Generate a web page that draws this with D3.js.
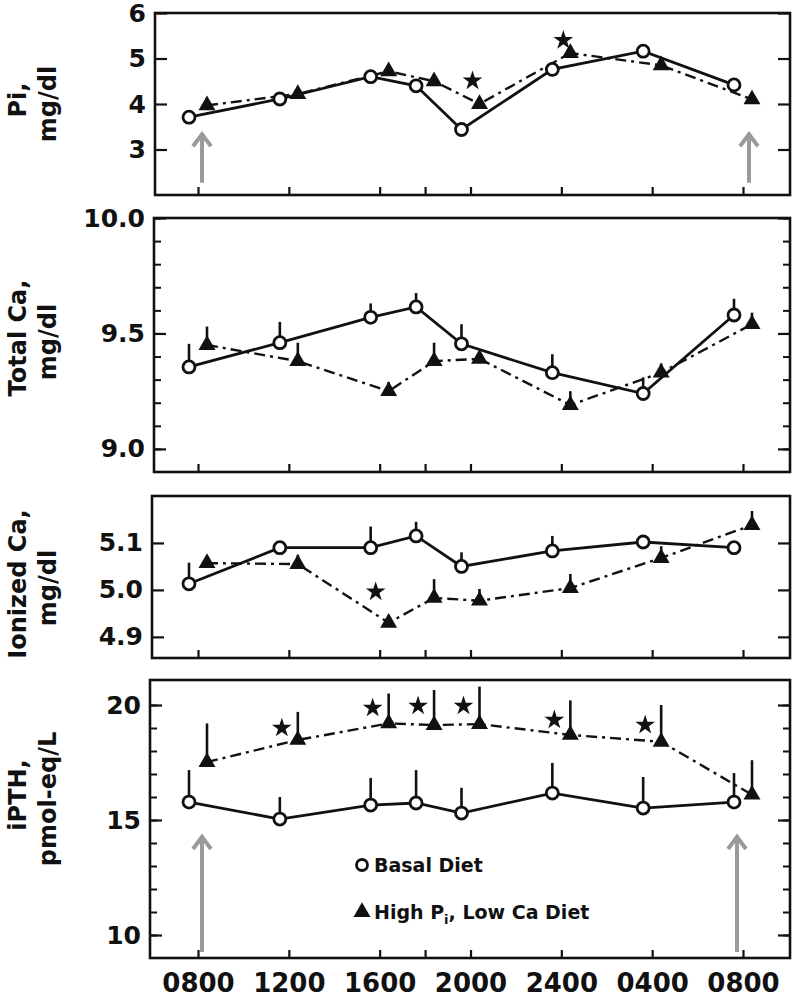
<!DOCTYPE html>
<html>
<head>
<meta charset="utf-8">
<script src="https://cdn.jsdelivr.net/npm/d3@7"></script>
<style>
  html, body { margin: 0; padding: 0; background: #fff; }
  svg { display: block; }
  text { font-family: "DejaVu Sans", sans-serif; fill: #111; }
</style>
</head>
<body>
<svg id="chart" width="797" height="1000"></svg>
<script>
// ---------- data ----------
const sampleHours = [0, 4, 8, 10, 12, 16, 20, 24];
const labelHours = [0, 4, 8, 12, 16, 20, 24];
const timeLabels = ["0800", "1200", "1600", "2000", "2400", "0400", "0800"];

// Panel 1: Pi, mg/dl
const piBasal = [3.71, 4.11, 4.60, 4.40, 3.44, 4.76, 5.16, 4.42];
const piHigh  = [3.97, 4.22, 4.72, 4.50, 4.00, 5.12, 4.85, 4.10];
const piStarHours = [12, 16];
const piStarValues = [4.51, 5.40];

// Panel 2: Total Ca, mg/dl
const caBasal    = [9.355, 9.46, 9.57, 9.615, 9.455, 9.33, 9.24, 9.58];
const caBasalErr = [0.10, 0.09, 0.06, 0.06, 0.085, 0.08, 0.07, 0.07];
const caHigh     = [9.45, 9.38, 9.25, 9.38, 9.39, 9.19, 9.33, 9.54];
const caHighErr  = [0.08, 0.08, 0.04, 0.08, 0.03, 0.06, 0.04, 0.05];

// Panel 3: Ionized Ca, mg/dl
const ionBasal    = [5.013, 5.09, 5.09, 5.115, 5.05, 5.083, 5.102, 5.09];
const ionBasalErr = [0.045, 0.01, 0.045, 0.03, 0.03, 0.032, 0.01, 0.01];
const ionHigh     = [5.057, 5.055, 4.93, 4.983, 4.977, 5.004, 5.068, 5.138];
const ionHighErr  = [0.01, 0.02, 0.01, 0.04, 0.025, 0.03, 0.025, 0.03];
const ionStarHours = [8];
const ionStarValues = [4.996];

// Panel 4: iPTH, pmol-eq/L
const pthBasal    = [15.78, 15.04, 15.65, 15.74, 15.30, 16.17, 15.52, 15.78];
const pthBasalErr = [1.39, 0.96, 1.18, 1.43, 1.10, 1.31, 1.35, 1.26];
const pthHigh     = [17.52, 18.48, 19.20, 19.13, 19.17, 18.70, 18.40, 16.10];
const pthHighErr  = [1.68, 1.22, 1.30, 1.52, 1.63, 1.50, 1.60, 1.50];
const pthStarHours = [4, 8, 10, 12, 16, 20];
const pthStarValues = [19.0, 19.87, 19.96, 19.96, 19.35, 19.13];

const legendLabels = ["Basal Diet", "High P", "i", ", Low Ca Diet"];

// ---------- layout ----------
const svg = d3.select("#chart");
const right = 790;
const x = d3.scaleLinear().domain([0, 24]).range([198, 743]);
const dxBasal = -9, dxHigh = 9;

const panels = [
  { title: ["Pi,", "mg/dl"], left: 155, top: 13, bottom: 195, domain: [2, 6],
    major: [3, 4, 5, 6], minor: [], fmt: d3.format("d"),
    basal: piBasal, high: piHigh, basalErr: null, highErr: null,
    starH: piStarHours, starV: piStarValues, starDx: 2,
    titleY: 100, arrows: true, arrowFrom: 2.27, arrowTo: 3.38 },
  { title: ["Total Ca,", "mg/dl"], left: 154, top: 218, bottom: 472, domain: [8.9, 10.0],
    major: [9.0, 9.5, 10.0], minor: d3.range(9.0, 10.0001, 0.1), fmt: d3.format(".1f"),
    basal: caBasal, high: caHigh, basalErr: caBasalErr, highErr: caHighErr,
    starH: [], starV: [], titleY: 338 },
  { title: ["Ionized Ca,", "mg/dl"], left: 152, top: 496, bottom: 658, domain: [4.855, 5.2],
    major: [4.9, 5.0, 5.1], minor: [], fmt: d3.format(".1f"),
    basal: ionBasal, high: ionHigh, basalErr: ionBasalErr, highErr: ionHighErr,
    starH: ionStarHours, starV: ionStarValues, starDx: -4, titleY: 584 },
  { title: ["iPTH,", "pmol-eq/L"], left: 150, top: 680, bottom: 958, domain: [9, 21.087],
    major: [10, 15, 20], minor: d3.range(10, 21, 1), fmt: d3.format("d"),
    basal: pthBasal, high: pthHigh, basalErr: pthBasalErr, highErr: pthHighErr,
    starH: pthStarHours, starV: pthStarValues, starDx: -7, titleY: 795,
    arrows: true, arrowFrom: 9.26, arrowTo: 14.35, legend: true }
];

const triangle = d3.symbol().type(d3.symbolTriangle).size(125);
const star = d3.symbol().type(d3.symbolStar).size(120);

panels.forEach((p, pi) => {
  const y = d3.scaleLinear().domain(p.domain).range([p.bottom, p.top]);
  const g = svg.append("g");

  // y-axis titles
  const tg = g.append("g");
  tg.append("text").attr("transform", `translate(26,${p.titleY}) rotate(-90)`)
    .attr("text-anchor", "middle").style("font-size", "24px").style("font-weight", "bold")
    .text(p.title[0]);
  tg.append("text").attr("transform", `translate(56,${p.titleY + 4}) rotate(-90)`)
    .attr("text-anchor", "middle").style("font-size", "24px").style("font-weight", "bold")
    .text(p.title[1]);

  // minor ticks
  if (p.minor.length) {
    g.append("g").attr("transform", `translate(${p.left},0)`)
      .call(d3.axisLeft(y).tickValues(p.minor).tickSize(-7).tickFormat(""))
      .call(a => a.select(".domain").remove())
      .call(a => a.selectAll("line").attr("stroke", "#111").attr("stroke-width", 2));
    g.append("g").attr("transform", `translate(${right},0)`)
      .call(d3.axisRight(y).tickValues(p.minor).tickSize(-7).tickFormat(""))
      .call(a => a.select(".domain").remove())
      .call(a => a.selectAll("line").attr("stroke", "#111").attr("stroke-width", 2));
  }
  // major ticks + labels
  g.append("g").attr("transform", `translate(${p.left},0)`)
    .call(d3.axisLeft(y).tickValues(p.major).tickSize(-12).tickPadding(9).tickFormat(p.fmt))
    .call(a => a.select(".domain").remove())
    .call(a => a.selectAll("line").attr("stroke", "#111").attr("stroke-width", 2.2))
    .call(a => a.selectAll("text").style("font-size", "25px").style("font-weight", "bold")
      .style("font-family", "'DejaVu Sans', sans-serif").attr("fill", "#111"));
  g.append("g").attr("transform", `translate(${right},0)`)
    .call(d3.axisRight(y).tickValues(p.major).tickSize(-12).tickFormat(""))
    .call(a => a.select(".domain").remove())
    .call(a => a.selectAll("line").attr("stroke", "#111").attr("stroke-width", 2.2));

  // bottom ticks (inside)
  const isLast = pi === panels.length - 1;
  g.append("g").attr("transform", `translate(0,${p.bottom})`)
    .call(d3.axisBottom(x).tickValues(sampleHours).tickSize(-8).tickPadding(isLast ? 16 : 0)
      .tickFormat(h => { const i = labelHours.indexOf(h); return isLast && i >= 0 ? timeLabels[i] : ""; }))
    .call(a => a.select(".domain").remove())
    .call(a => a.selectAll("line").attr("stroke", "#111").attr("stroke-width", 2.2))
    .call(a => a.selectAll("text").style("font-size", "26px").style("font-weight", "bold")
      .style("font-family", "'DejaVu Sans', sans-serif").attr("fill", "#111"));

  // frame
  g.append("rect").attr("x", p.left).attr("y", p.top)
    .attr("width", right - p.left).attr("height", p.bottom - p.top)
    .attr("fill", "none").attr("stroke", "#111").attr("stroke-width", 2.6);

  // gray arrows
  if (p.arrows) {
    const ax = [x(0) + 4, x(24) + (pi === 0 ? 6 : -6)];
    ax.forEach(xx => {
      const y0 = y(p.arrowFrom), y1 = y(p.arrowTo);
      g.append("line").attr("x1", xx).attr("x2", xx).attr("y1", y0).attr("y2", y1 + 1)
        .attr("stroke", "#9a9a9a").attr("stroke-width", 4);
      g.append("path").attr("d", `M${xx - 9},${y1 + 14} L${xx},${y1 + 2} L${xx + 9},${y1 + 14}`)
        .attr("fill", "none").attr("stroke", "#9a9a9a").attr("stroke-width", 4)
        .attr("stroke-linejoin", "miter");
    });
  }

  const bx = i => x(sampleHours[i]) + dxBasal;
  const hx = i => x(sampleHours[i]) + dxHigh;

  // error bars (upward)
  if (p.highErr) {
    g.selectAll(null).data(p.high).enter().append("line")
      .attr("x1", (d, i) => hx(i)).attr("x2", (d, i) => hx(i))
      .attr("y1", d => y(d)).attr("y2", (d, i) => y(d + p.highErr[i]))
      .attr("stroke", "#111").attr("stroke-width", 2.6);
  }
  if (p.basalErr) {
    g.selectAll(null).data(p.basal).enter().append("line")
      .attr("x1", (d, i) => bx(i)).attr("x2", (d, i) => bx(i))
      .attr("y1", d => y(d)).attr("y2", (d, i) => y(d + p.basalErr[i]))
      .attr("stroke", "#111").attr("stroke-width", 2.6);
  }

  // lines
  const lineH = d3.line().x((d, i) => hx(i)).y(d => y(d));
  const lineB = d3.line().x((d, i) => bx(i)).y(d => y(d));
  g.append("path").datum(p.high).attr("d", lineH).attr("fill", "none")
    .attr("stroke", "#111").attr("stroke-width", 2.4).attr("stroke-dasharray", "11,5,3,5");
  g.append("path").datum(p.basal).attr("d", lineB).attr("fill", "none")
    .attr("stroke", "#111").attr("stroke-width", 2.8);

  // markers
  g.selectAll(null).data(p.high).enter().append("path")
    .attr("d", triangle).attr("transform", (d, i) => `translate(${hx(i)},${y(d)})`)
    .attr("fill", "#111");
  g.selectAll(null).data(p.basal).enter().append("circle")
    .attr("cx", (d, i) => bx(i)).attr("cy", d => y(d)).attr("r", 6)
    .attr("fill", "#fff").attr("stroke", "#111").attr("stroke-width", 2.8);

  // significance stars
  g.selectAll(null).data(p.starV).enter().append("path")
    .attr("d", star).attr("transform", (d, i) => `translate(${x(p.starH[i]) + p.starDx},${y(d)})`)
    .attr("fill", "#111");

  // legend
  if (p.legend) {
    g.append("circle").attr("cx", 362).attr("cy", 865).attr("r", 5.5)
      .attr("fill", "#fff").attr("stroke", "#111").attr("stroke-width", 2.8);
    g.append("text").attr("x", 374).attr("y", 872).style("font-size", "19px").style("font-weight", "bold")
      .text(legendLabels[0]);
    g.append("path").attr("d", triangle).attr("transform", "translate(362,912)").attr("fill", "#111");
    const t = g.append("text").attr("x", 374).attr("y", 919).style("font-size", "19px").style("font-weight", "bold");
    t.append("tspan").text(legendLabels[1]);
    t.append("tspan").attr("dy", 5).style("font-size", "13px").text(legendLabels[2]);
    t.append("tspan").attr("dy", -5).text(legendLabels[3]);
  }
});
</script>
</body>
</html>
